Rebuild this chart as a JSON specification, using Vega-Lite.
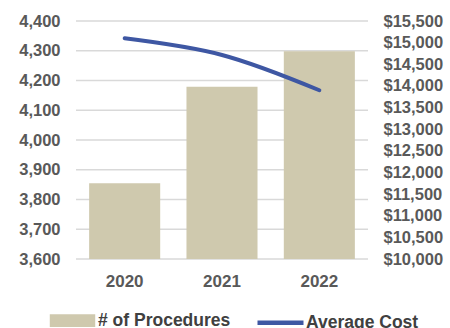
{
  "$schema": "https://vega.github.io/schema/vega-lite/v6.json",
  "autosize": {"type": "none"},
  "width": 292,
  "height": 238,
  "padding": {"left": 76, "top": 21, "right": 82, "bottom": 69},
  "background": "white",
  "datasets": {
    "main": [
      {"year": "2020", "procedures": 3855, "cost": 15100},
      {"year": "2021", "procedures": 4179, "cost": 14715},
      {"year": "2022", "procedures": 4298, "cost": 13900}
    ],
    "grid": [
      {"level": 3600}, {"level": 3700}, {"level": 3800}, {"level": 3900}, {"level": 4000},
      {"level": 4100}, {"level": 4200}, {"level": 4300}, {"level": 4400}
    ]
  },
  "layer": [
    {
      "layer": [
        {
          "data": {"name": "grid"},
          "mark": {"type": "rule", "color": "#D9D9D9", "strokeWidth": 1.5},
          "encoding": {
            "y": {"field": "level", "type": "quantitative", "scale": {"domain": [3600, 4400], "zero": false, "nice": false},
              "axis": {"title": null, "values": [3600, 3700, 3800, 3900, 4000, 4100, 4200, 4300, 4400], "format": ",d", "ticks": false, "domain": false, "grid": false, "labelPadding": 16, "labelOverlap": false}}
          }
        },
        {
          "data": {"name": "main"},
          "mark": {"type": "bar", "clip": true},
          "encoding": {
            "x": {"field": "year", "type": "nominal", "scale": {"paddingInner": 0.27, "paddingOuter": 0.135},
              "axis": {"title": null, "labelAngle": 0, "ticks": false, "domain": false, "grid": false, "labelPadding": 14, "labelFontSize": 17}},
            "y": {"field": "procedures", "type": "quantitative", "scale": {"domain": [3600, 4400], "zero": false, "nice": false},
              "axis": {"title": null, "values": [3600, 3700, 3800, 3900, 4000, 4100, 4200, 4300, 4400], "format": ",d", "ticks": false, "domain": false, "grid": false, "labelPadding": 16, "labelOverlap": false}},
            "color": {"datum": "# of Procedures", "type": "nominal",
              "scale": {"domain": ["# of Procedures", "Average Cost"], "range": ["#CFC9AE", "#3E57A3"]},
              "legend": {"title": null, "orient": "none", "legendX": -29, "legendY": 274, "direction": "horizontal", "symbolSize": 2116, "symbolStrokeWidth": 4.5, "labelOffset": 0, "columnPadding": 17,
                "encode": {"symbols": {"update": {
                  "shape": {"signal": "datum.value === 'Average Cost' ? 'stroke' : 'M-0.89,-0.18L0.89,-0.18L0.89,0.18L-0.89,0.18Z'"},
                  "fill": {"signal": "datum.value === 'Average Cost' ? 'transparent' : '#CFC9AE'"},
                  "stroke": {"signal": "datum.value === 'Average Cost' ? '#3E57A3' : 'transparent'"},
                  "strokeWidth": {"value": 4.5},
                  "opacity": {"value": 1}
                }}}}
            }
          }
        }
      ]
    },
    {
      "data": {"name": "main"},
      "mark": {"type": "line", "strokeWidth": 4, "strokeCap": "round", "interpolate": "catmull-rom"},
      "encoding": {
        "x": {"field": "year", "type": "nominal"},
        "y": {"field": "cost", "type": "quantitative", "scale": {"domain": [10000, 15500], "zero": false, "nice": false},
          "axis": {"title": null, "orient": "right", "values": [10000, 10500, 11000, 11500, 12000, 12500, 13000, 13500, 14000, 14500, 15000, 15500], "format": "$,d", "ticks": false, "domain": false, "grid": false, "labelPadding": 15, "labelOverlap": false}},
        "color": {"datum": "Average Cost", "type": "nominal"}
      }
    }
  ],
  "resolve": {"scale": {"y": "independent"}},
  "config": {
    "view": {"stroke": null},
    "font": "Liberation Sans",
    "axis": {"labelFont": "Liberation Sans", "labelFontSize": 16.5, "labelFontWeight": "bold", "labelColor": "#595959"},
    "legend": {"labelFont": "Liberation Sans", "labelFontSize": 17.5, "labelFontWeight": "bold", "labelColor": "#404040", "padding": 0}
  }
}
